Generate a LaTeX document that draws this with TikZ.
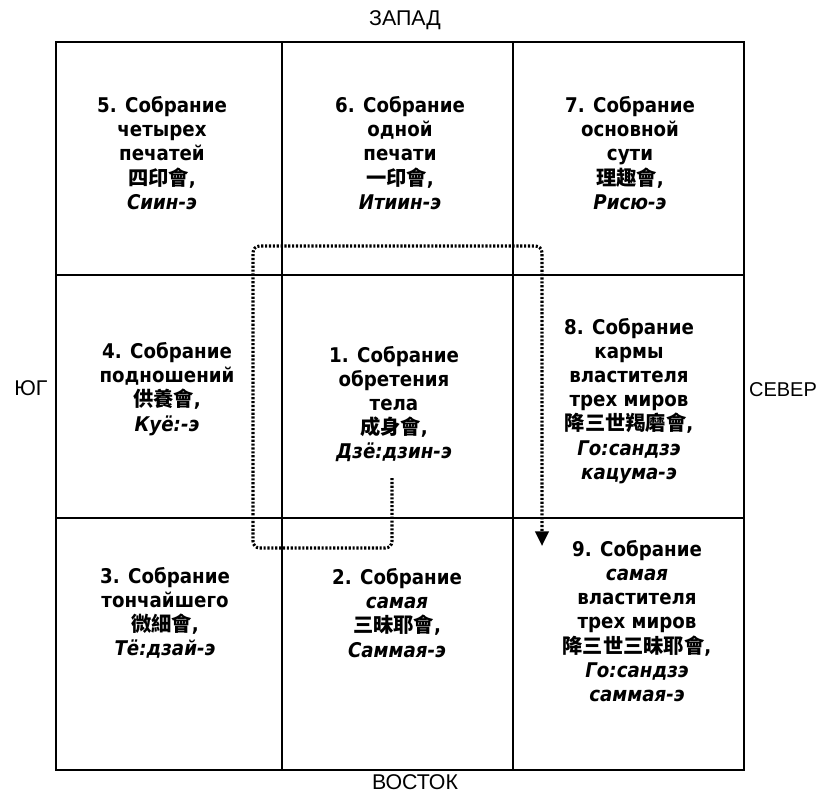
\documentclass[tikz,border=0pt]{standalone}
\usepackage{fontspec}
\usetikzlibrary{arrows.meta}
\newfontfamily\cellfont{DejaVu Sans}[FakeStretch=0.9]
\newfontfamily\dirfont{Liberation Sans}
\newfontfamily\cjk{Noto Sans CJK TC}
\newcommand\hz[1]{{\cjk #1}}
\begin{document}
\begin{tikzpicture}[x=0.75pt,y=-0.75pt,
  cell/.style={align=center, inner sep=0pt,
    font=\cellfont\bfseries\fontsize{15.2}{18.1}\selectfont},
  dir/.style={inner sep=0pt, font=\dirfont\fontsize{16}{20}\selectfont},
  grid/.style={line width=1.4pt},
  flow/.style={line width=2.3pt, dash pattern=on 1.6pt off 1.3pt,
    rounded corners=5pt}]
\useasboundingbox (0,0) rectangle (822,793);
\fill[white] (0,0) rectangle (822,793);

% the 3x3 grid
\draw[grid] (56,42) rectangle (744,770);
\draw[grid] (282,42) -- (282,770);
\draw[grid] (513,42) -- (513,770);
\draw[grid] (56,275) -- (744,275);
\draw[grid] (56,518) -- (744,518);

% cardinal directions
\node[dir] (west)  at (405,20)  {ЗАПАД};
\node[dir] (east)  at (415,782) {ВОСТОК};
\node[dir] (south) at (31,388)  {ЮГ};
\node[dir, font=\dirfont\fontsize{15}{18}\selectfont] (north) at (783,390) {СЕВЕР};

% the nine assemblies
\node[cell] (c5) at (162,153) {5. Собрание\\четырех\\печатей\\\hz{四印會},\\\textit{Сиин-э}};
\node[cell] (c6) at (400,153) {6. Собрание\\одной\\печати\\\hz{一印會},\\\textit{Итиин-э}};
\node[cell] (c7) at (630,153) {7. Собрание\\основной\\сути\\\hz{理趣會},\\\textit{Рисю-э}};
\node[cell] (c4) at (167,389) {4. Собрание\\подношений\\\hz{供養會},\\\textit{Куё:-э}};
\node[cell] (c1) at (394,404) {1. Собрание\\обретения\\тела\\\hz{成身會},\\\textit{Дзё:дзин-э}};
\node[cell] (c8) at (629,401) {8. Собрание\\кармы\\властителя\\трех миров\\\hz{降三世羯磨會},\\\textit{Го:сандзэ}\\\textit{кацума-э}};
\node[cell] (c3) at (165,613) {3. Собрание\\тончайшего\\\hz{微細會},\\\textit{Тё:дзай-э}};
\node[cell] (c2) at (397,613) {2. Собрание\\\textit{самая}\\\hz{三昧耶會},\\\textit{Саммая-э}};
\node[cell] (c9) at (637,621) {9. Собрание\\\textit{самая}\\властителя\\трех миров\\\hz{降三世三昧耶會},\\\textit{Го:сандзэ}\\\textit{саммая-э}};

% dotted route from assembly 1 round to assembly 9
\coordinate (p0) at (392,478);
\coordinate (p1) at (392,548);
\coordinate (p2) at (253,548);
\coordinate (p3) at (253,246);
\coordinate (p4) at (542,246);
\coordinate (p5) at (542,546);
\draw[flow, -{Triangle[width=10pt,length=11pt]}]
  (p0) -- (p1) -- (p2) -- (p3) -- (p4) -- (p5);
\end{tikzpicture}
\end{document}
